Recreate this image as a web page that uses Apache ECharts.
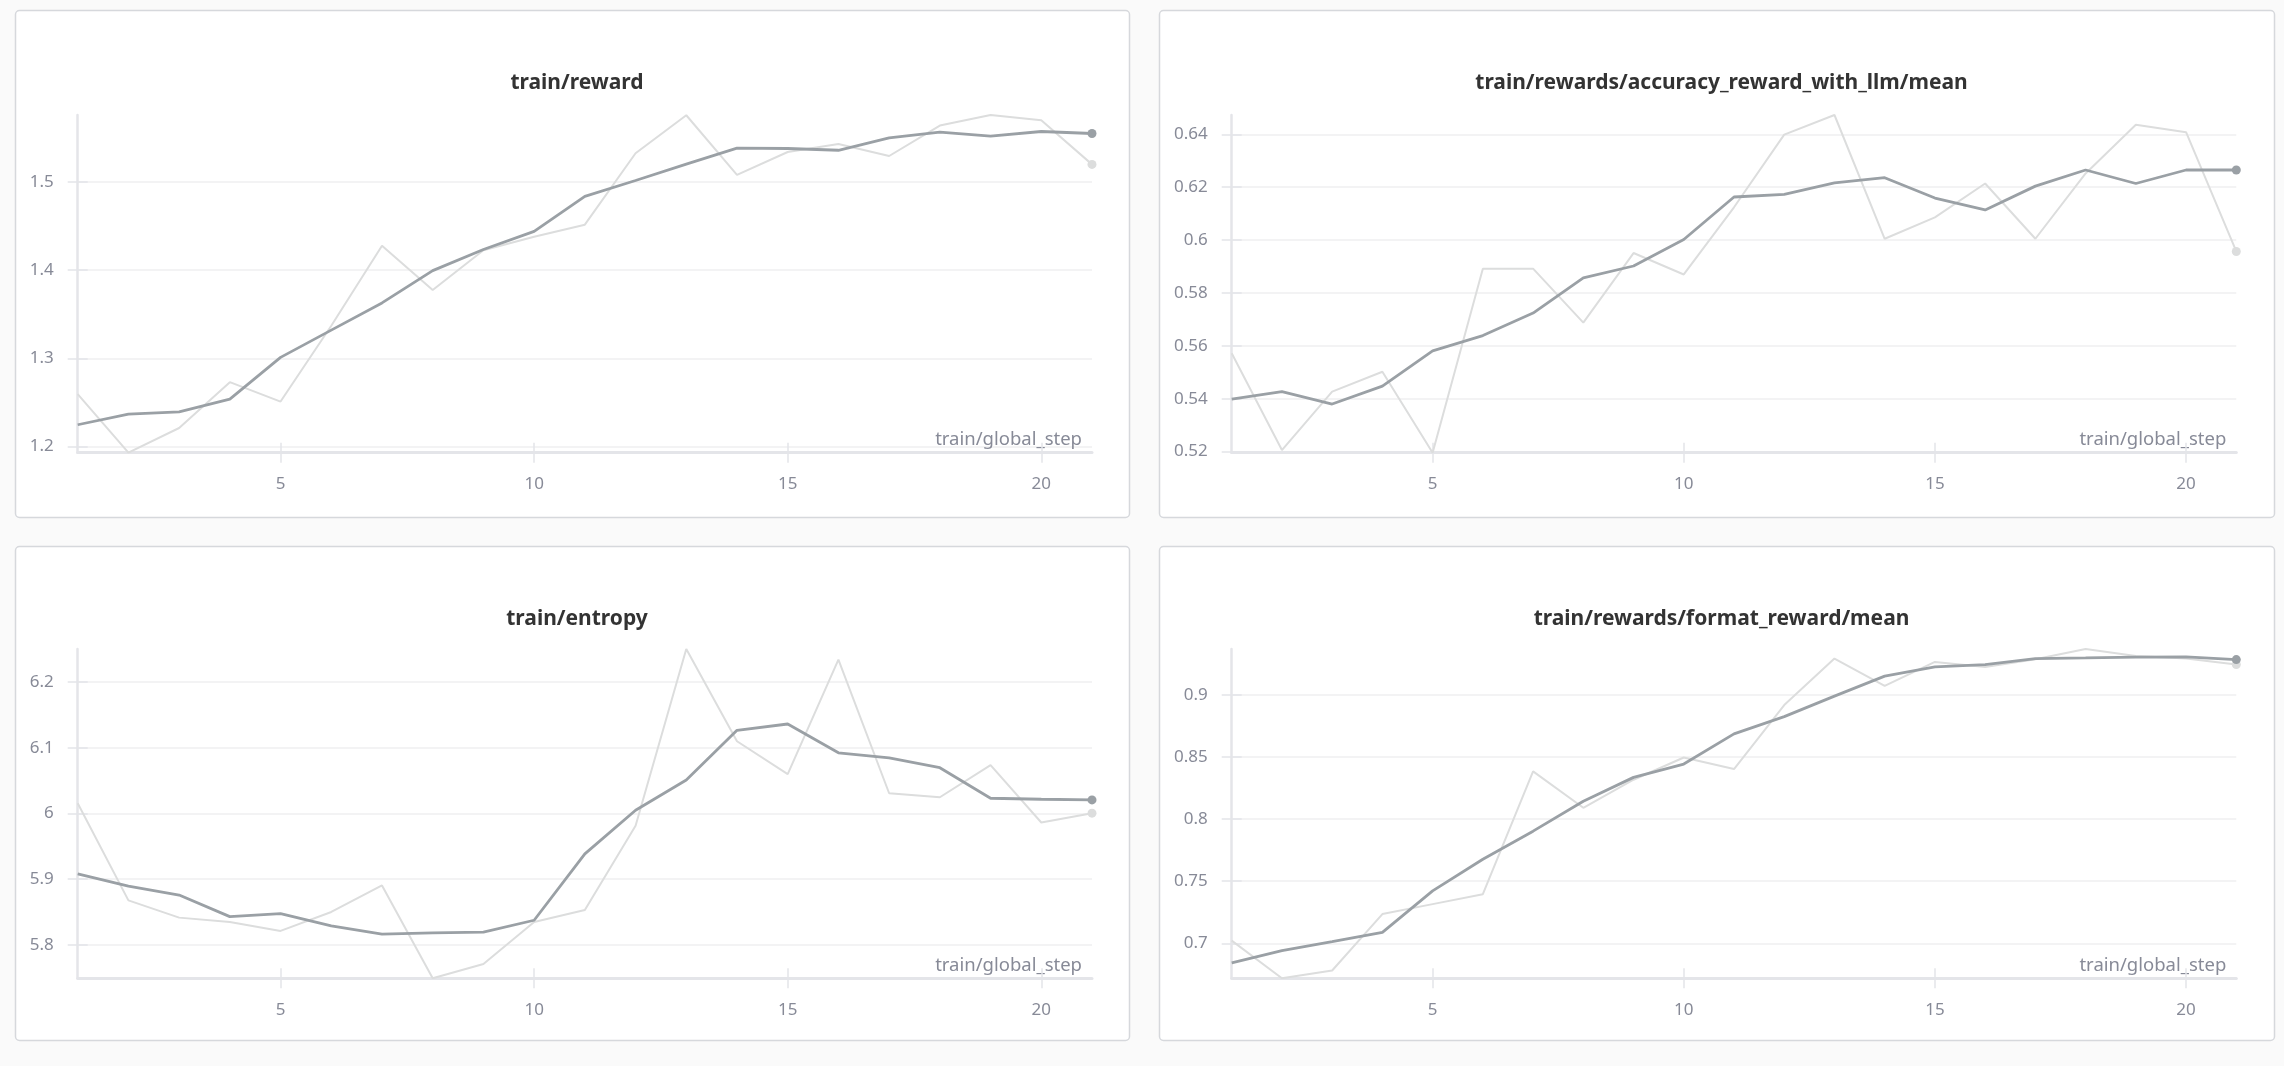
<!DOCTYPE html>
<html>
<head>
<meta charset="utf-8">
<script src="https://cdn.jsdelivr.net/npm/echarts@6/dist/echarts.min.js"></script>
<style>
  html, body { margin: 0; padding: 0; background: #fafafa; }
  #chart { width: 2284px; height: 1066px; }
</style>
</head>
<body>
<div id="chart"></div>
<script>
// ---- data ----
const steps = [1,2,3,4,5,6,7,8,9,10,11,12,13,14,15,16,17,18,19,20,21];
const xTicks = [5, 10, 15, 20];

const titles = [
  'train/reward',
  'train/rewards/accuracy_reward_with_llm/mean',
  'train/entropy',
  'train/rewards/format_reward/mean'
];

// train/reward
const rewardRaw = [1.2595,1.193,1.221,1.273,1.251,1.337,1.4277,1.3775,1.4227,1.438,1.4516,1.5326,1.5757,1.508,1.534,1.543,1.5295,1.564,1.576,1.570,1.520];
const rewardSmooth = [1.2247,1.2367,1.2394,1.2537,1.3011,1.332,1.3629,1.3995,1.4234,1.444,1.4837,1.5017,1.5203,1.5384,1.538,1.536,1.550,1.5565,1.552,1.5573,1.555];
const rewardTicks = [1.2, 1.3, 1.4, 1.5];

// train/rewards/accuracy_reward_with_llm/mean
const accRaw = [0.5572,0.5206,0.5427,0.5502,0.5196,0.5892,0.5892,0.5688,0.5951,0.587,0.6124,0.6399,0.6473,0.6005,0.6086,0.6214,0.6005,0.6252,0.6436,0.6408,0.5957];
const accSmooth = [0.5399,0.5427,0.538,0.5448,0.5581,0.5639,0.5724,0.5857,0.5902,0.6002,0.6163,0.6173,0.6216,0.6236,0.6159,0.6114,0.6204,0.6265,0.6214,0.6265,0.6265];
const accTicks = [0.52, 0.54, 0.56, 0.58, 0.6, 0.62, 0.64];

// train/entropy
const entRaw = [6.0157,5.8677,5.8414,5.8348,5.8212,5.85,5.8904,5.749,5.7707,5.8348,5.853,5.9813,6.2505,6.110,6.060,6.2343,6.0308,6.0247,6.0737,5.9863,6.0005];
const entSmooth = [5.9081,5.8894,5.8758,5.8429,5.8475,5.8288,5.8162,5.8182,5.8192,5.8374,5.9384,6.005,6.051,6.1267,6.1363,6.0924,6.0848,6.0697,6.0232,6.0217,6.0207];
const entTicks = [5.8, 5.9, 6, 6.1, 6.2];

// train/rewards/format_reward/mean
const fmtRaw = [0.7021,0.6718,0.6781,0.7235,0.7315,0.7395,0.8383,0.809,0.8316,0.8495,0.8402,0.8917,0.9291,0.9072,0.9264,0.9224,0.9286,0.9368,0.9312,0.9291,0.9243];
const fmtSmooth = [0.6842,0.6941,0.7013,0.7088,0.7422,0.7676,0.7902,0.8143,0.8335,0.8442,0.8685,0.8824,0.8989,0.915,0.9224,0.9243,0.9291,0.9296,0.9302,0.9304,0.9283];
const fmtTicks = [0.7, 0.75, 0.8, 0.85, 0.9];

// ---- layout / style ----
const W = 2284, H = 1066;
const FONT = '"Noto Sans", "Open Sans", sans-serif';
const panels = [
  { box: [15, 10, 1114, 507],  grid: { left: 77.7, right: 1192, top: 115, bottom: 613.3 }, raw: rewardRaw, smooth: rewardSmooth, ticks: rewardTicks },
  { box: [1159, 10, 1115, 507], grid: { left: 1231.7, right: 47.7, top: 115, bottom: 613.3 }, raw: accRaw, smooth: accSmooth, ticks: accTicks },
  { box: [15, 546, 1114, 494], grid: { left: 77.7, right: 1192, top: 649, bottom: 87.7 }, raw: entRaw, smooth: entSmooth, ticks: entTicks },
  { box: [1159, 546, 1115, 494], grid: { left: 1231.7, right: 47.7, top: 649, bottom: 87.7 }, raw: fmtRaw, smooth: fmtSmooth, ticks: fmtTicks }
];

const LABEL = '#878a97';
const AXIS = '#e4e5e9';
const GRIDC = '#efeff1';
const DARK = '#9aa0a5';
const LIGHT = '#dcdddd';

const grid = [], xAxis = [], yAxis = [], series = [], title = [], graphics = [];

panels.forEach((p, i) => {
  graphics.push({
    type: 'rect', z: -10, silent: true,
    shape: { x: p.box[0] + 0.5, y: p.box[1] + 0.5, width: p.box[2], height: p.box[3], r: 4 },
    style: { fill: '#ffffff', stroke: '#d6d8dc', lineWidth: 1.5 }
  });
  title.push({
    text: titles[i],
    left: p.box[0] + p.box[2] / 2,
    top: p.box[1] + 58,
    textAlign: 'center',
    textStyle: { fontFamily: FONT, fontSize: 21, fontWeight: 'bold', color: '#333333' }
  });
  grid.push(Object.assign({ containLabel: false }, p.grid));

  // main x axis
  xAxis.push({
    type: 'value', gridIndex: i, position: 'bottom', min: 1, max: 21,
    name: 'train/global_step', nameLocation: 'end', nameGap: -10,
    nameTextStyle: { fontFamily: FONT, fontSize: 18.5, color: LABEL, align: 'right', verticalAlign: 'bottom', padding: [0, 0, 3, 0] },
    axisLine: { show: true, lineStyle: { color: AXIS, width: 3 } },
    axisTick: { show: false, customValues: xTicks },
    axisLabel: { customValues: xTicks, fontFamily: FONT, fontSize: 17, color: LABEL, margin: 23 },
    splitLine: { show: false }
  });
  // tick-only x axis (ticks crossing the axis line)
  xAxis.push({
    type: 'value', gridIndex: i, position: 'bottom', min: 1, max: 21, offset: -10,
    axisLine: { show: false },
    axisTick: { show: true, length: 20, customValues: xTicks, lineStyle: { color: AXIS, width: 1.5 } },
    axisLabel: { show: false },
    splitLine: { show: false }
  });

  // main y axis
  yAxis.push({
    type: 'value', gridIndex: i, position: 'left', min: 'dataMin', max: 'dataMax', scale: true,
    axisLine: { show: true, lineStyle: { color: AXIS, width: 2.5 } },
    axisTick: { show: false, customValues: p.ticks },
    axisLabel: { customValues: p.ticks, fontFamily: FONT, fontSize: 17, color: LABEL, margin: 24 },
    splitLine: { show: true, lineStyle: { color: GRIDC, width: 1.5 } }
  });
  // tick-only y axis
  yAxis.push({
    type: 'value', gridIndex: i, position: 'left', min: 'dataMin', max: 'dataMax', scale: true, offset: -10,
    axisLine: { show: false },
    axisTick: { show: true, length: 20, customValues: p.ticks, lineStyle: { color: AXIS, width: 1.5 } },
    axisLabel: { show: false },
    splitLine: { show: false }
  });

  const rawData = steps.map((s, k) => [s, p.raw[k]]);
  const smData = steps.map((s, k) => [s, p.smooth[k]]);
  const sizeFn = (v, params) => (params.dataIndex === steps.length - 1 ? 9 : 0);

  series.push({
    type: 'line', xAxisIndex: 2 * i, yAxisIndex: 2 * i, data: rawData,
    showSymbol: true, showAllSymbol: true, symbol: 'circle', symbolSize: sizeFn,
    lineStyle: { color: LIGHT, width: 2 }, itemStyle: { color: LIGHT },
    z: 2, silent: true, animation: false
  });
  series.push({
    type: 'line', xAxisIndex: 2 * i, yAxisIndex: 2 * i, data: smData,
    showSymbol: true, showAllSymbol: true, symbol: 'circle', symbolSize: sizeFn,
    lineStyle: { color: DARK, width: 2.8 }, itemStyle: { color: DARK },
    z: 3, silent: true, animation: false
  });
  // invisible series so the tick-only axes share the same data extent
  series.push({
    type: 'line', xAxisIndex: 2 * i + 1, yAxisIndex: 2 * i + 1, data: rawData.concat(smData),
    showSymbol: false, lineStyle: { opacity: 0 }, silent: true, animation: false, z: 0
  });
});

const chart = echarts.init(document.getElementById('chart'), null, { renderer: 'canvas', width: W, height: H });
chart.setOption({
  backgroundColor: '#fafafa',
  animation: false,
  title, grid, xAxis, yAxis, series,
  graphic: { elements: graphics }
});
</script>
</body>
</html>
